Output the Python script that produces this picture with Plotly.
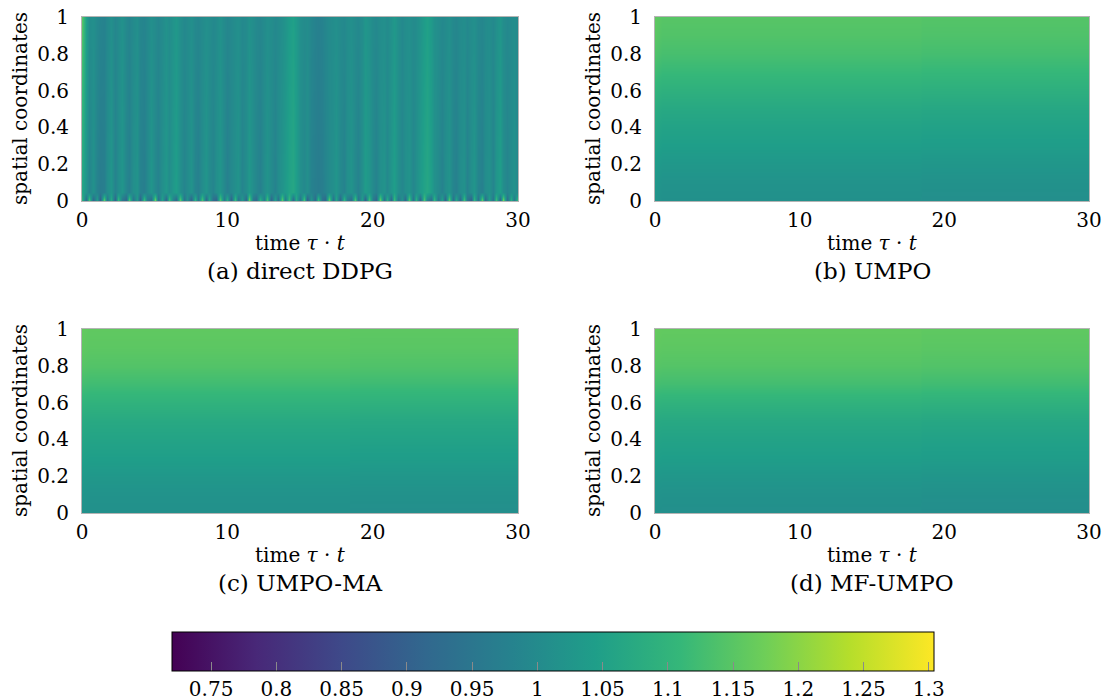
import plotly.graph_objects as go

# ---------------- data ----------------
# panel (a) direct DDPG: time grid every 0.25 (0..30), three spatial rows
t_a = [0.25 * i for i in range(121)]
y_a = [0.0, 0.05, 1.0]
col_top = [1.15,1.05,1.005,1.01,0.995,0.985,0.98,0.995,1.01,0.99,
           1.00,1.015,0.995,0.985,1.00,1.01,0.99,0.985,0.995,1.01,
           1.00,0.99,1.00,1.015,1.005,1.02,1.03,1.01,0.995,1.00,
           1.01,0.995,0.99,1.00,1.01,1.005,0.995,1.00,1.015,1.00,
           0.99,0.995,1.005,1.01,0.995,1.00,1.015,1.005,0.995,0.99,
           1.00,1.01,1.005,0.995,1.00,1.01,1.02,1.04,1.05,1.035,
           1.01,1.00,1.005,0.99,0.98,0.975,0.98,0.99,1.00,1.005,
           1.01,1.00,0.995,1.005,1.01,1.00,0.995,1.005,1.025,1.015,
           1.00,0.995,1.005,1.01,1.00,1.015,1.03,1.01,0.995,1.005,
           1.01,1.00,1.005,1.02,1.04,1.05,1.035,1.015,1.005,0.995,
           1.00,1.01,0.995,0.99,1.00,1.005,0.995,1.005,1.01,0.995,
           0.99,1.00,1.005,0.995,1.01,1.025,1.005,0.995,1.00,1.005,
           0.995]
col_low = [1.06,1.02,0.985,1.015,0.98,0.965,0.97,1.005,1.025,0.98,
           1.005,1.025,0.99,0.975,1.01,1.02,0.98,0.97,0.995,1.025,
           0.995,0.98,1.01,1.03,1.005,1.03,1.045,1.01,0.985,1.00,
           1.02,0.985,0.975,1.005,1.025,1.00,0.985,1.01,1.025,0.995,
           0.975,0.995,1.01,1.02,0.985,1.005,1.03,1.005,0.99,0.975,
           1.005,1.02,1.00,0.98,1.005,1.02,1.035,1.055,1.065,1.045,
           1.01,0.995,1.01,0.98,0.97,0.965,0.97,0.985,1.00,1.01,
           1.025,0.995,0.98,1.01,1.02,0.995,0.98,1.01,1.04,1.025,
           0.995,0.98,1.01,1.02,0.995,1.025,1.045,1.01,0.99,1.01,
           1.02,0.99,1.01,1.035,1.055,1.065,1.045,1.015,1.00,0.98,
           1.005,1.02,0.985,0.975,1.005,1.015,0.98,1.01,1.025,0.985,
           0.975,1.005,1.015,0.985,1.025,1.045,1.005,0.985,1.005,1.015,
           0.99]
col_bot = [1.10,0.92,1.15,0.90,1.05,0.88,1.18,0.94,1.08,0.89,
           1.12,0.95,0.90,1.16,0.93,1.04,0.88,1.14,0.96,0.91,
           1.20,0.92,1.06,0.89,1.13,0.97,0.90,1.17,0.93,1.02,
           0.88,1.11,0.94,1.15,0.90,1.07,0.92,0.89,1.16,0.95,
           1.09,0.88,1.13,0.93,1.04,0.90,1.19,0.94,0.91,1.10,
           0.96,1.14,0.89,1.06,0.92,1.17,0.95,1.12,0.90,1.08,
           0.93,1.15,0.88,1.03,0.91,1.13,0.94,0.90,1.18,0.92,
           1.07,0.89,1.12,0.96,0.91,1.16,0.93,1.05,0.88,1.14,
           0.95,0.90,1.19,0.92,1.09,0.89,1.13,0.94,1.02,0.90,
           1.16,0.93,1.10,0.88,1.15,0.97,0.91,1.12,0.94,1.06,
           0.89,1.17,0.92,1.08,0.90,1.14,0.95,0.88,1.11,0.93,
           1.18,0.91,1.05,0.94,1.13,0.89,1.20,0.92,1.09,0.95,
           1.15]

# panels (b)-(d): spatial profile (y = 0, 0.1, ..., 1) and small time offsets
y_s = [0.0, 0.1, 0.2, 0.3, 0.4, 0.5, 0.6, 0.7, 0.8, 0.9, 1.0]
prof_b = [1.012, 1.018, 1.030, 1.044, 1.056, 1.070, 1.090, 1.112, 1.130, 1.142, 1.148]
prof_c = [1.012, 1.018, 1.030, 1.045, 1.058, 1.072, 1.095, 1.122, 1.143, 1.154, 1.158]
prof_d = [1.010, 1.016, 1.028, 1.044, 1.056, 1.070, 1.095, 1.125, 1.145, 1.155, 1.160]
t_s = [0.0, 0.5, 18.35, 18.45, 30.0]
off_b = [0.010, 0.0, 0.0, -0.003, -0.003]
off_c = [0.004, 0.0, 0.0, -0.003, -0.003]
off_d = [0.004, 0.0, 0.0, -0.003, -0.003]

captions = ["(a) direct DDPG", "(b) UMPO", "(c) UMPO-MA", "(d) MF-UMPO"]
x_ticks = [0, 10, 20, 30]
y_ticks = [0, 0.2, 0.4, 0.6, 0.8, 1]
y_ticktext = ["0", "0.2", "0.4", "0.6", "0.8", "1"]
cb_ticks = [0.75, 0.8, 0.85, 0.9, 0.95, 1.0, 1.05, 1.1, 1.15, 1.2, 1.25, 1.3]
cb_ticktext = ["0.75", "0.8", "0.85", "0.9", "0.95", "1", "1.05", "1.1", "1.15", "1.2", "1.25", "1.3"]
zmin, zmax = 0.72, 1.304

# ---------------- figure ----------------
W, H = 1107, 700
FONT = "DejaVu Serif"

def grid(prof, off):
    return [[p + o for o in off] for p in prof]

z_a = [col_bot, col_low, col_top]

fig = go.Figure()
fig.add_trace(go.Heatmap(x=t_a, y=y_a, z=z_a, coloraxis="coloraxis", zsmooth="best",
                         xaxis="x", yaxis="y"))
fig.add_trace(go.Heatmap(x=t_s, y=y_s, z=grid(prof_b, off_b), coloraxis="coloraxis",
                         zsmooth="best", xaxis="x2", yaxis="y2"))
fig.add_trace(go.Heatmap(x=t_s, y=y_s, z=grid(prof_c, off_c), coloraxis="coloraxis",
                         zsmooth="best", xaxis="x3", yaxis="y3"))
fig.add_trace(go.Heatmap(x=t_s, y=y_s, z=grid(prof_d, off_d), coloraxis="coloraxis",
                         zsmooth="best", xaxis="x4", yaxis="y4"))

# panel pixel boxes in the page (left, right, top, bottom)
boxes = [(82, 518, 17, 201), (655, 1089, 17, 201), (82, 518, 329, 513), (655, 1089, 329, 513)]
ytitle_x = [20, 593, 20, 593]

def px_x(p):
    return p / W

def px_y(p):
    return 1 - p / H

tickfont = dict(family=FONT, size=20, color="black")
layout = dict(
    width=W, height=H, margin=dict(l=0, r=0, t=0, b=0, autoexpand=False),
    paper_bgcolor="white", plot_bgcolor="white",
    font=dict(family=FONT, size=20, color="black"),
    coloraxis=dict(
        colorscale="Viridis", cmin=zmin, cmax=zmax,
        colorbar=dict(
            orientation="h", x=px_x(553), xanchor="center", y=px_y(632), yanchor="top",
            len=762, lenmode="pixels", thickness=39, thicknessmode="pixels",
            outlinewidth=1, outlinecolor="black", xpad=0, ypad=0,
            tickvals=cb_ticks, ticktext=cb_ticktext, ticks="inside", ticklen=9,
            tickwidth=1, tickcolor="#8a8a8a", tickfont=tickfont,
        ),
    ),
)
annotations = []
for k, (l, r, t, b) in enumerate(boxes):
    sx = "" if k == 0 else str(k + 1)
    layout["xaxis" + sx] = dict(
        domain=[px_x(l), px_x(r)], anchor="y" + sx, range=[0, 30],
        tickvals=x_ticks, ticks="", showgrid=False, zeroline=False,
        showline=True, linecolor="#b4b4b4", linewidth=1, mirror=True,
        tickfont=tickfont, ticklabelstandoff=1, automargin=False,
        ticklabeloverflow="allow",
    )
    layout["yaxis" + sx] = dict(
        domain=[px_y(b), px_y(t)], anchor="x" + sx, range=[0, 1],
        tickvals=y_ticks, ticktext=y_ticktext, ticks="", showgrid=False, zeroline=False,
        showline=True, linecolor="#b4b4b4", linewidth=1, mirror=True,
        tickfont=tickfont, ticklabelstandoff=8, automargin=False,
        ticklabeloverflow="allow",
    )
    cx = px_x((l + r) / 2)
    annotations.append(dict(
        text="time <i>τ</i> · <i>t</i>", xref="paper", yref="paper",
        x=cx, y=px_y(b + 42), xanchor="center", yanchor="middle",
        showarrow=False, font=dict(family=FONT, size=20, color="black"),
    ))
    annotations.append(dict(
        text=captions[k], xref="paper", yref="paper",
        x=cx, y=px_y(b + 70), xanchor="center", yanchor="middle",
        showarrow=False, font=dict(family=FONT, size=23, color="black"),
    ))
    annotations.append(dict(
        text="spatial coordinates", xref="paper", yref="paper", textangle=-90,
        x=px_x(ytitle_x[k]), y=px_y((t + b) / 2), xanchor="center", yanchor="middle",
        showarrow=False, font=dict(family=FONT, size=20, color="black"),
    ))
layout["annotations"] = annotations
fig.update_layout(**layout)

# remove the default 8px page margin so the figure fills the window exactly
fig.write_html("out.html", config={"displayModeBar": False},
               post_script="document.body.style.margin='0px';document.body.style.overflow='hidden';")
